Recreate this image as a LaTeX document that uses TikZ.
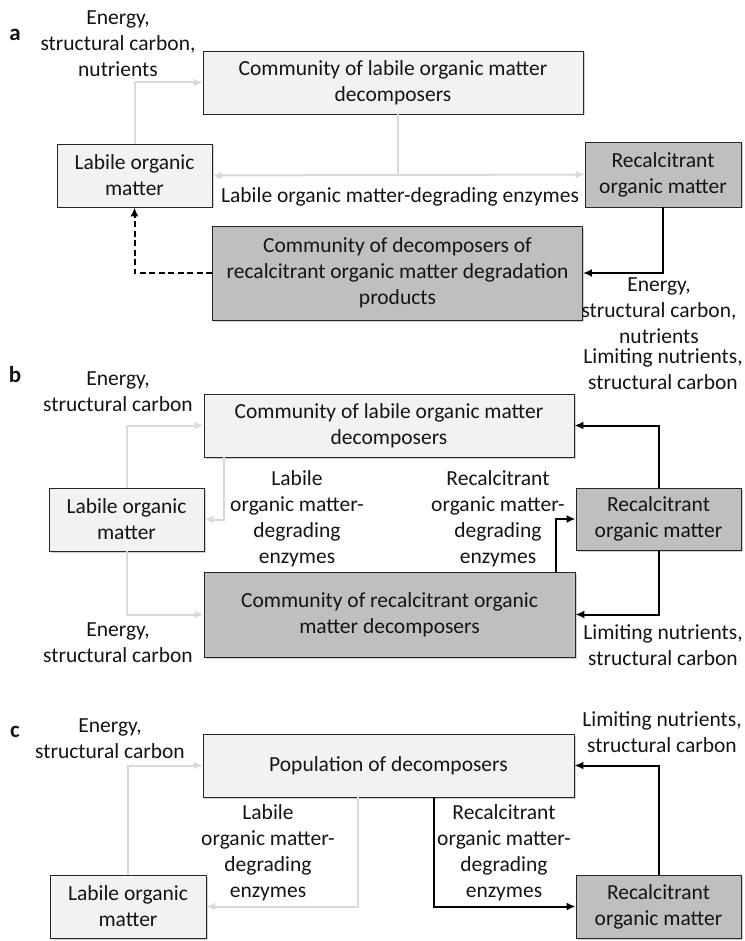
\documentclass[tikz,border=0pt]{standalone}
\usepackage{fontspec}
\setmainfont{Carlito}
\usepackage{xcolor}
\usepackage{tikz}
\usetikzlibrary{arrows.meta, calc, shadows}

\begin{document}
\begin{tikzpicture}[x=1pt, y=-1pt,
    every node/.style={font=\fontsize{21.5}{26}\selectfont, text=txt},
    box/.style={draw=black!85, line width=0.9pt, inner sep=0pt, align=center,
        drop shadow={shadow xshift=1.5pt, shadow yshift=-1.5pt, fill=black, opacity=0.18}},
    lightbox/.style={box, fill=boxlight},
    darkbox/.style={box, fill=boxdark},
    lbl/.style={align=center, inner sep=0pt},
    panel/.style={font=\fontsize{23}{26}\selectfont\bfseries, inner sep=0pt},
    tip/.style={-{Latex[length=9pt, width=8pt]}},
    flow/.style={line width=2pt, tip},
    grayflow/.style={flow, draw=arrowgray},
    blackflow/.style={flow, draw=black}]

\definecolor{boxlight}{RGB}{242,242,242}   % light boxes
\definecolor{boxdark}{RGB}{191,191,191}    % dark boxes
\definecolor{arrowgray}{RGB}{217,217,217}  % labile fluxes
\definecolor{txt}{RGB}{20,20,20}

\useasboundingbox (0,0) rectangle (744,941);

% Panel a
\node[panel] (pa) at (15,35) {a};
\node[lightbox, minimum width=380, minimum height=63] (acom) at (393,82.5) {Community of labile organic matter\\decomposers};
\node[lightbox, minimum width=155, minimum height=63] (alom) at (134.5,175.5) {Labile organic\\matter};
\node[darkbox, minimum width=156, minimum height=65] (arec) at (663,174.5) {Recalcitrant\\organic matter};
\node[darkbox, minimum width=370, minimum height=94] (adec) at (397.5,273) {Community of decomposers of\\recalcitrant organic matter degradation\\products};

\node[lbl] (aintop) at (118,44) {Energy,\\structural carbon,\\nutrients};
\node[lbl] (aenz) at (400,197) {Labile organic matter-degrading enzymes};
\node[lbl] (aout) at (659,311) {Energy,\\structural carbon,\\nutrients};

\draw[grayflow] (alom.north) |- (acom.west);
\draw[grayflow, {Latex[length=9pt, width=8pt]}-{Latex[length=9pt, width=8pt]}] (alom.east) -- (arec.west);
\draw[line width=2pt, arrowgray] ([xshift=5pt]acom.south) -- ([xshift=5pt]acom.south |- alom.east);
\draw[blackflow] (arec.south) |- (adec.east);
\draw[blackflow, dash pattern=on 6pt off 3.5pt] (adec.west) -| (alom.south);

% Panel b
\node[panel] (pb) at (15,375) {b};
\node[lightbox, minimum width=370, minimum height=63] (bcom) at (389,425.5) {Community of labile organic matter\\decomposers};
\node[lightbox, minimum width=155, minimum height=63] (blom) at (126.5,519.5) {Labile organic\\matter};
\node[darkbox, minimum width=165, minimum height=62] (brec) at (658.5,519) {Recalcitrant\\organic matter};
\node[darkbox, minimum width=371, minimum height=85] (bdec) at (389.5,614.5) {Community of recalcitrant organic\\matter decomposers};

\node[lbl] (bintop) at (118,392) {Energy,\\structural carbon};
\node[lbl] (blenz) at (297,519) {Labile\\organic matter-\\degrading\\enzymes};
\node[lbl] (brenz) at (498,519) {Recalcitrant\\organic matter-\\degrading\\enzymes};
\node[lbl] (blimtop) at (663,369) {Limiting nutrients,\\structural carbon};
\node[lbl] (binbot) at (118,643) {Energy,\\structural carbon};
\node[lbl] (blimbot) at (663,645) {Limiting nutrients,\\structural carbon};

\draw[grayflow] (blom.north) |- (bcom.west);
\draw[grayflow] ([xshift=20pt]bcom.south west) |- (blom.east);
\draw[grayflow] (blom.south) |- (bdec.west);
\draw[blackflow] (brec.north) |- (bcom.east);
\draw[blackflow] ([xshift=-19pt]bdec.north east) |- (brec.west);
\draw[blackflow] (brec.south) |- (bdec.east);

% Panel c
\node[panel] (pc) at (15,732) {c};
\node[lightbox, minimum width=371, minimum height=63] (cpop) at (388.5,765.5) {Population of decomposers};
\node[lightbox, minimum width=156, minimum height=63] (clom) at (128,906.5) {Labile organic\\matter};
\node[darkbox, minimum width=165, minimum height=63] (crec) at (658.5,906.5) {Recalcitrant\\organic matter};

\node[lbl] (cintop) at (110,739) {Energy,\\structural carbon};
\node[lbl] (clenz) at (268,853) {Labile\\organic matter-\\degrading\\enzymes};
\node[lbl] (crenz) at (504,853) {Recalcitrant\\organic matter-\\degrading\\enzymes};
\node[lbl] (climtop) at (662,732) {Limiting nutrients,\\structural carbon};

\draw[grayflow] (clom.north) |- (cpop.west);
\draw[grayflow] ([xshift=-30.5pt]cpop.south) |- (clom.east);
\draw[blackflow] ([xshift=45.5pt]cpop.south) |- (crec.west);
\draw[blackflow] (crec.north) |- (cpop.east);

\end{tikzpicture}
\end{document}
